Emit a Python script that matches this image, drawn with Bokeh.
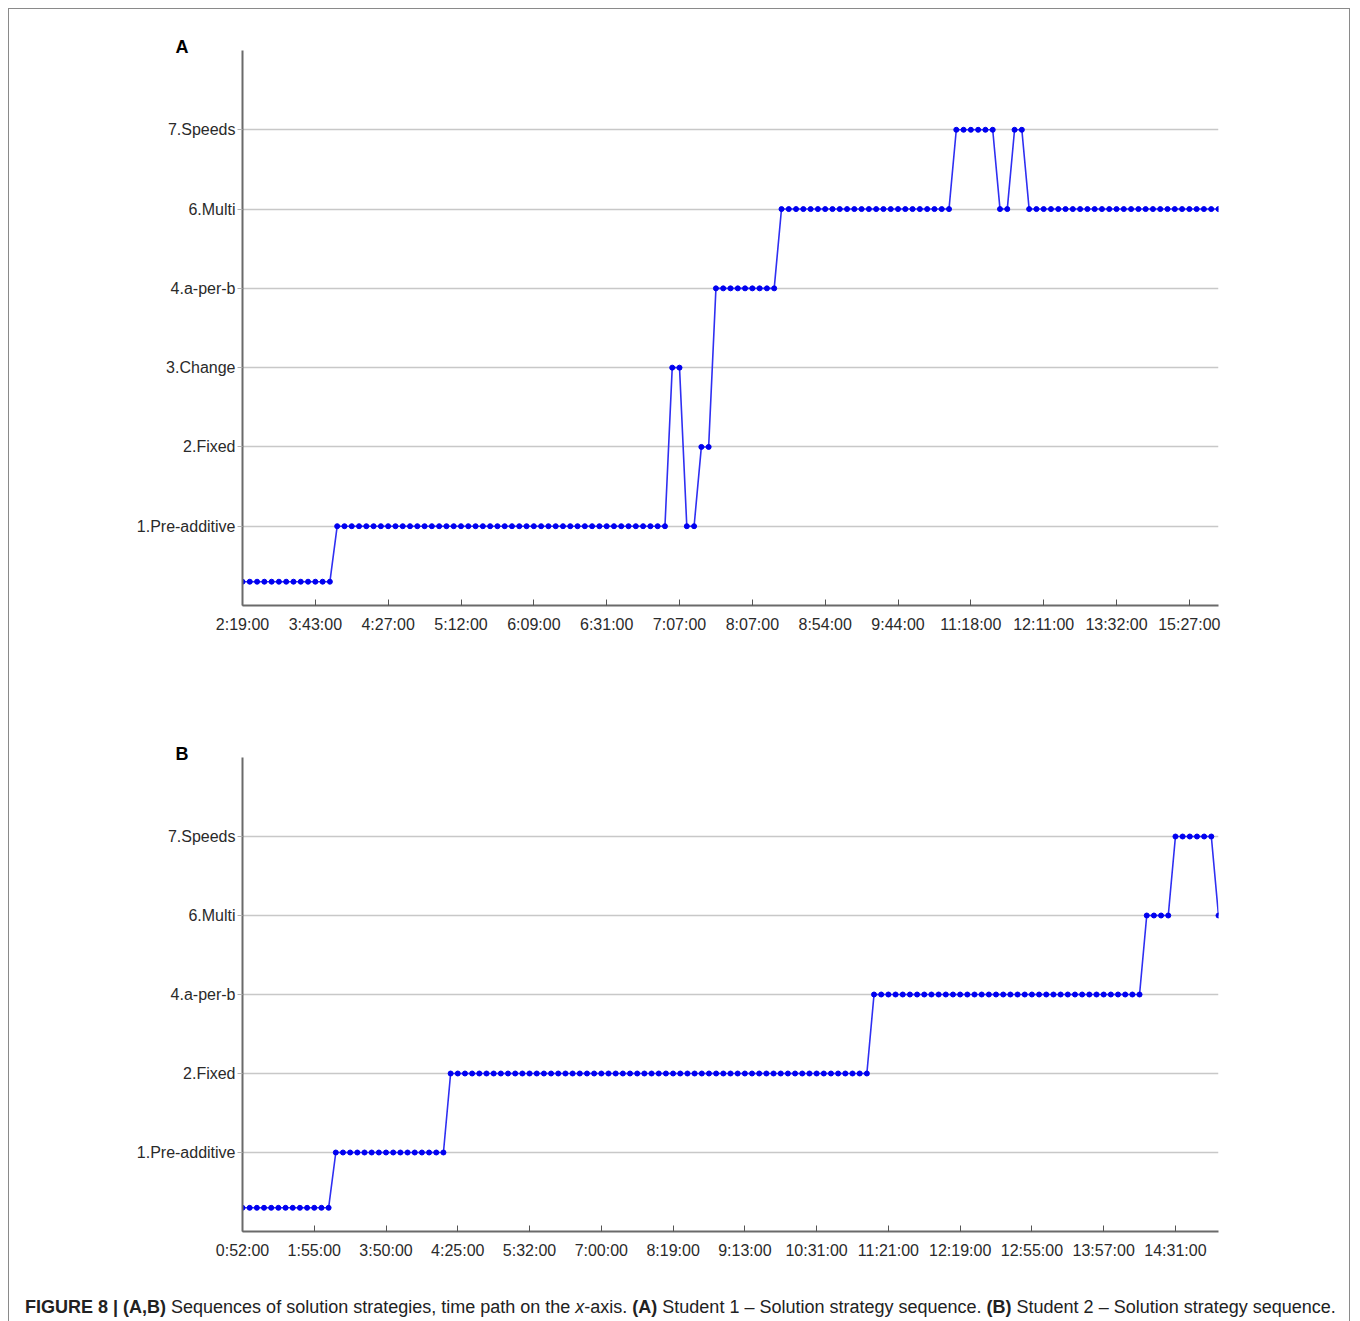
from bokeh.plotting import figure
from bokeh.models import FixedTicker, Range1d, Div
from bokeh.layouts import column
from bokeh.embed import file_html
from bokeh.resources import INLINE

FONT = "Liberation Sans"

# ---------------- data ----------------
START_LEVEL = 0.3  # unlabeled initial state

A_CATEGORIES = ["1.Pre-additive", "2.Fixed", "3.Change", "4.a-per-b", "6.Multi", "7.Speeds"]
A_TICK_LABELS = ["2:19:00", "3:43:00", "4:27:00", "5:12:00", "6:09:00", "6:31:00", "7:07:00",
                 "8:07:00", "8:54:00", "9:44:00", "11:18:00", "12:11:00", "13:32:00", "15:27:00"]
A_RUN_STRATEGY = ["start", "1.Pre-additive", "3.Change", "1.Pre-additive", "2.Fixed", "4.a-per-b",
                  "6.Multi", "7.Speeds", "6.Multi", "7.Speeds", "6.Multi"]
A_RUN_LENGTH = [13, 46, 2, 2, 2, 9, 24, 6, 2, 2, 27]

B_CATEGORIES = ["1.Pre-additive", "2.Fixed", "4.a-per-b", "6.Multi", "7.Speeds"]
B_TICK_LABELS = ["0:52:00", "1:55:00", "3:50:00", "4:25:00", "5:32:00", "7:00:00", "8:19:00",
                 "9:13:00", "10:31:00", "11:21:00", "12:19:00", "12:55:00", "13:57:00", "14:31:00"]
B_RUN_STRATEGY = ["start", "1.Pre-additive", "2.Fixed", "4.a-per-b", "6.Multi", "7.Speeds", "6.Multi"]
B_RUN_LENGTH = [13, 16, 59, 38, 4, 6, 1]

TICK_EVERY = 10


def expand(cats, strategies, lengths):
    ys = []
    for s, n in zip(strategies, lengths):
        v = START_LEVEL if s == "start" else cats.index(s) + 1
        ys.extend([v] * n)
    xs = list(range(len(ys)))
    return xs, ys


def make_panel(letter, cats, tick_labels, strategies, lengths, height, top, bottom):
    xs, ys = expand(cats, strategies, lengths)
    n = len(xs)
    p = figure(width=1342, height=height, output_backend="svg", toolbar_location=None,
               min_border_left=233, min_border_right=131, min_border_top=top,
               min_border_bottom=bottom, x_range=Range1d(0, n - 1),
               y_range=Range1d(0, len(cats) + 1))
    p.outline_line_color = None
    p.background_fill_color = "white"
    p.border_fill_color = "white"

    p.title.text = letter
    p.title.align = "left"
    p.title.offset = -67
    p.title.standoff = -12
    p.title.text_font = FONT
    p.title.text_font_style = "bold"
    p.title.text_font_size = "18px"
    p.title.text_color = "#000000"

    p.xgrid.visible = False
    p.ygrid.ticker = FixedTicker(ticks=list(range(1, len(cats) + 2)))
    p.ygrid.grid_line_color = "#c8c8c8"
    p.ygrid.grid_line_width = 1.5

    p.yaxis.ticker = FixedTicker(ticks=list(range(1, len(cats) + 1)))
    p.yaxis.major_label_overrides = {i + 1: c for i, c in enumerate(cats)}
    p.yaxis.minor_tick_line_color = None
    p.yaxis.major_tick_in = 0
    p.yaxis.major_tick_out = 5
    p.yaxis.major_tick_line_color = "#b0b0b0"
    p.yaxis.major_label_standoff = 2

    ticks = list(range(0, TICK_EVERY * len(tick_labels), TICK_EVERY))
    p.xaxis.ticker = FixedTicker(ticks=ticks)
    p.xaxis.major_label_overrides = {t: l for t, l in zip(ticks, tick_labels)}
    p.xaxis.minor_tick_line_color = None
    p.xaxis.major_tick_in = 6
    p.xaxis.major_tick_out = 0
    p.xaxis.major_tick_line_color = "#555555"
    p.xaxis.major_label_standoff = 10

    for ax in (p.xaxis, p.yaxis):
        ax.axis_line_color = "#6a6a6a"
        ax.axis_line_width = 2
        ax.major_label_text_font = FONT
        ax.major_label_text_font_size = "16px"
        ax.major_label_text_color = "#2a2a2a"

    p.line(xs, ys, line_color="#2f2ff2", line_width=1.6)
    p.scatter(xs, ys, size=5, fill_color="#0000f0", line_color="#0000f0")
    return p


pA = make_panel("A", A_CATEGORIES, A_TICK_LABELS, A_RUN_STRATEGY, A_RUN_LENGTH, 672, 41, 76)
pB = make_panel("B", B_CATEGORIES, B_TICK_LABELS, B_RUN_STRATEGY, B_RUN_LENGTH, 610, 76, 60)

caption = Div(
    text=("<b>FIGURE 8 | (A,B)</b> Sequences of solution strategies, time path on the <i>x</i>-axis. "
          "<b>(A)</b> Student 1 \u2013 Solution strategy sequence. "
          "<b>(B)</b> Student 2 \u2013 Solution strategy sequence."),
    width=1318, height=40,
    styles={"font-family": FONT, "font-size": "18px", "color": "#222222",
            "margin-left": "16px", "margin-top": "4px", "white-space": "nowrap"})

layout = column(pA, pB, caption, spacing=0, margin=(8, 8, 0, 8), width=1342,
                styles={"border": "1px solid #8a8a8a", "background": "white"})

open("out.html", "w").write(file_html(layout, INLINE))
